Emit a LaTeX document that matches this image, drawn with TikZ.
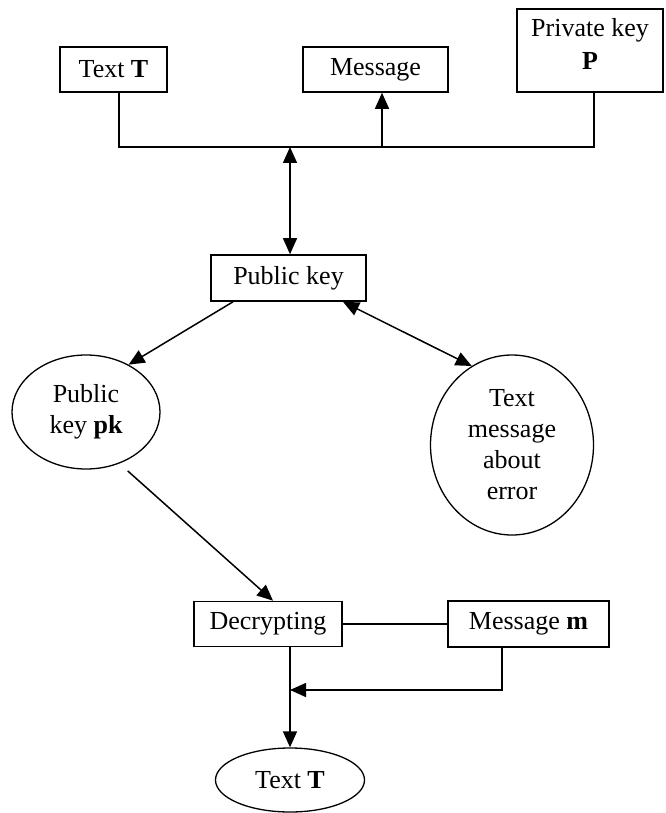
\documentclass[tikz,border=0pt]{standalone}
\usepackage{fontspec}
\setmainfont{Liberation Serif}
\usetikzlibrary{shapes.geometric,arrows.meta}
\begin{document}
\begin{tikzpicture}[x=1pt,y=-1pt,
  box/.style={draw, rectangle, inner sep=0pt, line width=1.6pt, align=center},
  oval/.style={draw, ellipse, inner sep=0pt, line width=1.3pt, align=center},
  conn/.style={line width=1.5pt},
  arr/.style={conn, -{Triangle[length=16pt,width=14pt]}},
  darr/.style={conn, {Triangle[length=16pt,width=14pt]}-{Triangle[length=16pt,width=14pt]}},
  font=\fontsize{26}{31}\selectfont]
\useasboundingbox (0,0) rectangle (665,813);

% nodes
\node[box, minimum width=107pt, minimum height=45pt] (textT) at (113.5,69.5) {Text \textbf{T}};
\node[box, minimum width=145pt, minimum height=45pt] (msg) at (375.5,69.5) {Message};
\node[box, minimum width=146pt, minimum height=83pt] (priv) at (590,50.5) {};
\node[align=center, inner sep=0pt] (privtext) at (590,43.5) {Private key\\[2pt] \textbf{P}};
\node[box, minimum width=155pt, minimum height=46pt] (pub) at (288.5,278) {Public key};
\node[oval, minimum width=148pt, minimum height=114pt] (pk) at (86,412) {Public\\ key \textbf{pk}};
\node[oval, minimum width=163pt, minimum height=180pt] (err) at (512,445) {Text\\ message\\ about\\ error};
\node[box, minimum width=148pt, minimum height=45pt] (dec) at (268,624) {Decrypting};
\node[box, minimum width=161pt, minimum height=46pt] (msgm) at (528.5,624) {Message \textbf{m}};
\node[oval, minimum width=149pt, minimum height=64pt] (tt) at (290,780) {Text \textbf{T}};

% junction coordinates
\coordinate (bl) at (119,147);
\coordinate (br) at (594,147);
\coordinate (bm) at (382,147);
\coordinate (bc) at (290,147);
\coordinate (j) at (290,690);

% connectors
\draw[conn] ([xshift=5.5pt]textT.south) -- (bl) -- (br) -- ([xshift=4pt]priv.south);
\draw[arr] (bm) -- ([xshift=6.5pt]msg.south);
\draw[darr] (bc) -- ([xshift=1.5pt]pub.north);
\draw[arr] ([xshift=-55.5pt]pub.south) -- (pk.48);
\draw[darr] ([xshift=54.5pt]pub.south) -- (err.117);
\draw[arr, shorten <=11pt] (pk.-57) -- ([xshift=5pt]dec.north);
\draw[conn] (dec.east) -- (msgm.west);
\draw[arr] ([xshift=-26.5pt]msgm.south) |- (j);
\draw[arr] ([xshift=22pt]dec.south) -- (tt.north);
\end{tikzpicture}
\end{document}
